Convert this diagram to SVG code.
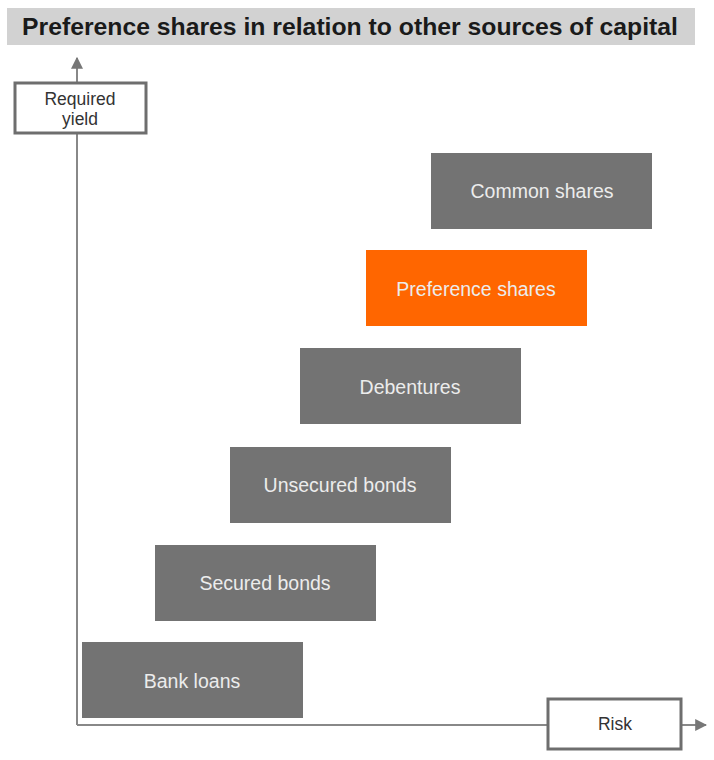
<svg xmlns="http://www.w3.org/2000/svg" width="714" height="760" viewBox="0 0 714 760">
  <style>
    .title { font-family: "Liberation Sans", Arial, sans-serif; font-size: 24px; font-weight: bold; fill: #1a1a1a; }
    .box { fill: #737373; }
    .hot { fill: #ff6600; }
    .lbl { font-family: "Liberation Sans", Arial, sans-serif; font-size: 19.5px; fill: #ececec; text-anchor: middle; dominant-baseline: central; }
    .axislbl { font-family: "Liberation Sans", Arial, sans-serif; font-size: 17.5px; fill: #333; text-anchor: middle; dominant-baseline: central; }
    .axisbox { fill: #fff; stroke: #6e6e6e; stroke-width: 3; }
    .axis { stroke: #888; stroke-width: 2; fill: none; }
  </style>
  <defs>
    <marker id="arrow" viewBox="0 0 10 10" refX="9" refY="5" markerWidth="12" markerHeight="12" orient="auto" markerUnits="userSpaceOnUse">
      <path d="M0,0 L10,5 L0,10 z" fill="#777"/>
    </marker>
  </defs>

  <rect width="714" height="760" fill="#fff"/>

  <!-- title bar -->
  <g id="title">
    <rect x="7" y="8" width="688" height="37" fill="#d2d2d2"/>
    <text class="title" x="350" y="35" text-anchor="middle" textLength="656" lengthAdjust="spacingAndGlyphs">Preference shares in relation to other sources of capital</text>
  </g>

  <!-- axes -->
  <g id="connectors">
    <path class="axis" d="M77,725 V58" marker-end="url(#arrow)"/>
    <path class="axis" d="M77,725 H706" marker-end="url(#arrow)"/>
  </g>

  <g id="yaxis-label">
    <rect class="axisbox" x="15" y="83" width="131" height="50"/>
    <text class="axislbl" x="80" y="99">Required</text>
    <text class="axislbl" x="80" y="119">yield</text>
  </g>

  <g id="xaxis-label">
    <rect class="axisbox" x="548" y="699" width="133" height="50"/>
    <text class="axislbl" x="615" y="724">Risk</text>
  </g>

  <!-- capital sources, rising with risk -->
  <g id="common-shares">
    <rect class="box" x="431" y="153" width="221" height="76"/>
    <text class="lbl" x="542" y="191">Common shares</text>
  </g>
  <g id="preference-shares">
    <rect class="hot" x="366" y="250" width="221" height="76"/>
    <text class="lbl" x="476" y="289">Preference shares</text>
  </g>
  <g id="debentures">
    <rect class="box" x="300" y="348" width="221" height="76"/>
    <text class="lbl" x="410" y="387">Debentures</text>
  </g>
  <g id="unsecured-bonds">
    <rect class="box" x="230" y="447" width="221" height="76"/>
    <text class="lbl" x="340" y="485">Unsecured bonds</text>
  </g>
  <g id="secured-bonds">
    <rect class="box" x="155" y="545" width="221" height="76"/>
    <text class="lbl" x="265" y="583">Secured bonds</text>
  </g>
  <g id="bank-loans">
    <rect class="box" x="82" y="642" width="221" height="76"/>
    <text class="lbl" x="192" y="681">Bank loans</text>
  </g>
</svg>
